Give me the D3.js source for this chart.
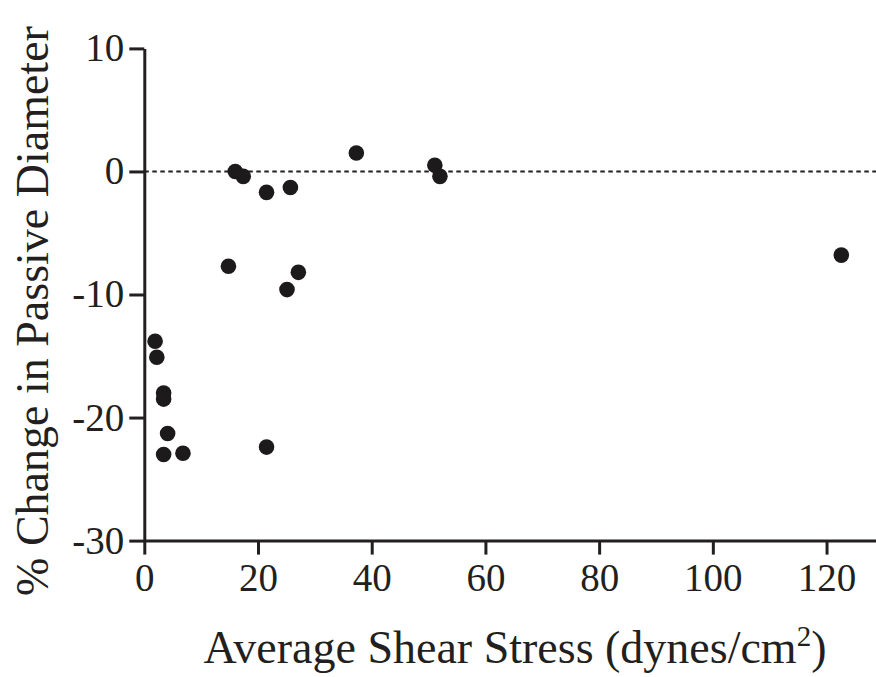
<!DOCTYPE html>
<html>
<head>
<meta charset="utf-8">
<script src="https://cdn.jsdelivr.net/npm/d3@7"></script>
<style>
  html, body { margin: 0; padding: 0; background: #fff; }
  svg text { font-family: "Liberation Serif", "Times New Roman", serif; fill: #231f20; }
</style>
</head>
<body>
<svg id="chart" width="876" height="677"></svg>
<script>
// shear stress (dynes/cm2) vs % change in passive diameter
const shear = [16.0, 17.4, 21.5, 25.7, 37.3, 51.1, 52.0, 14.8, 27.1, 25.1,
               1.9, 2.2, 3.4, 3.4, 4.1, 3.4, 6.8, 21.5, 122.6];
const change = [0.0, -0.4, -1.7, -1.3, 1.5, 0.5, -0.4, -7.7, -8.2, -9.6,
                -13.8, -15.1, -18.0, -18.5, -21.3, -23.0, -22.9, -22.4, -6.8];
const xTicks = [0, 20, 40, 60, 80, 100, 120];
const yTicks = [10, 0, -10, -20, -30];

const svg = d3.select('#chart');
const ink = '#231f20';

const x = d3.scaleLinear().domain([0, 128.7]).range([144.3, 876]);
const y = d3.scaleLinear().domain([-30, 10]).range([540.6, 48.4]);

// dotted reference line at 0
svg.append('line')
  .attr('x1', x(0)).attr('x2', 876)
  .attr('y1', y(0)).attr('y2', y(0))
  .attr('stroke', ink)
  .attr('stroke-width', 2.1)
  .attr('stroke-dasharray', '4.5,3.5');

const xAxis = svg.append('g')
  .attr('transform', 'translate(0,' + y(-30) + ')')
  .call(d3.axisBottom(x).tickValues(xTicks).tickSize(14).tickSizeOuter(0).tickPadding(9));

const yAxis = svg.append('g')
  .attr('transform', 'translate(' + x(0) + ',0)')
  .call(d3.axisLeft(y).tickValues(yTicks).tickSize(15).tickSizeOuter(0).tickPadding(5)
    .tickFormat(d => String(d)));

[xAxis, yAxis].forEach(g => {
  g.attr('font-family', null);
  g.select('.domain').attr('stroke', ink).attr('stroke-width', 3);
  g.selectAll('.tick line').attr('stroke', ink).attr('stroke-width', 3);
  g.selectAll('.tick text')
    .attr('fill', ink)
    .style('font-family', '"Liberation Serif", "Times New Roman", serif')
    .style('font-size', '39px');
});

// points
svg.append('g')
  .selectAll('circle')
  .data(shear.map((s, i) => [s, change[i]]))
  .join('circle')
  .attr('cx', d => x(d[0]))
  .attr('cy', d => y(d[1]))
  .attr('r', 7.8)
  .attr('fill', '#1c1a1b');

// axis titles
const xt = svg.append('text')
  .attr('x', 515)
  .attr('y', 663)
  .attr('text-anchor', 'middle')
  .style('font-size', '46px');
xt.append('tspan').text('Average Shear Stress (dynes/cm');
xt.append('tspan').attr('dy', -17).style('font-size', '29px').text('2');
xt.append('tspan').attr('dy', 17).text(')');

svg.append('text')
  .attr('transform', 'translate(48,311) rotate(-90)')
  .attr('text-anchor', 'middle')
  .style('font-size', '46px')
  .text('% Change in Passive Diameter');
</script>
</body>
</html>
